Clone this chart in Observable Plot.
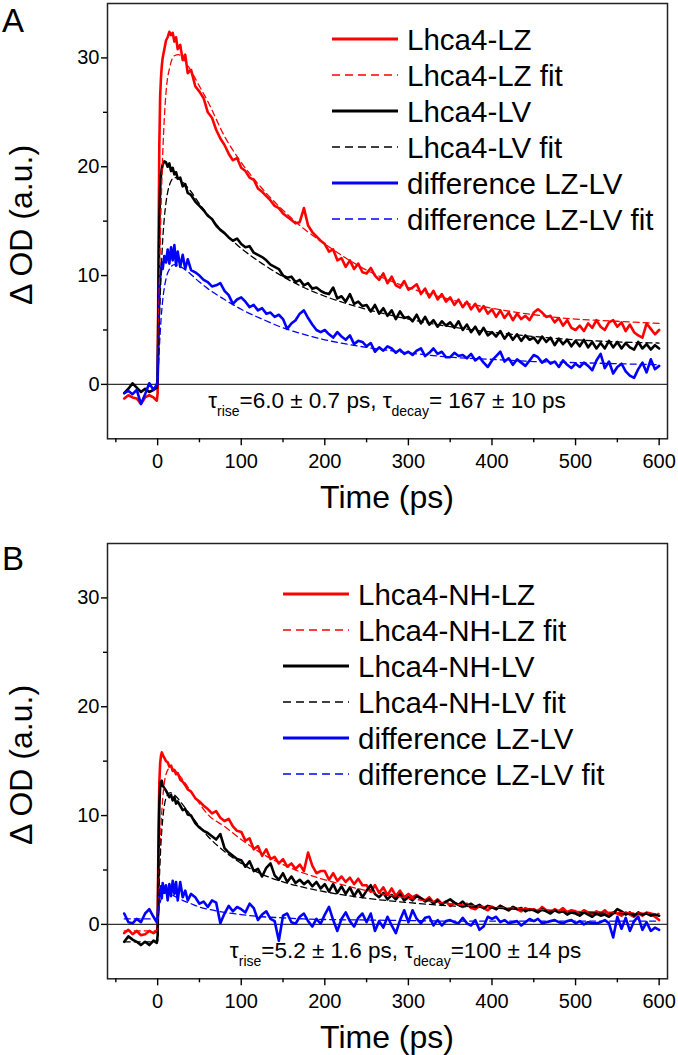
<!DOCTYPE html>
<html><head><meta charset="utf-8">
<script src="https://cdn.jsdelivr.net/npm/d3@7"></script>
<script src="https://cdn.jsdelivr.net/npm/@observablehq/plot@0.6"></script>
<style>
body{margin:0;background:#fff;}
#chart{width:678px;}
svg{display:block;}
</style></head><body><div id="chart"></div>
<script>
// ---------- time grid (ps) ----------
const tEarly = [-40,-35,-30,-25,-20,-15,-10,-5,-1,0,1,2,3,4,5,6,8,10,12,14,16,18,20,22,24,27,30,33,36,40,45];
const tLate = [50,55,60,65,70,75,80,85,90,95,
 100,105,110,115,120,125,130,135,140,145,
 150,155,160,165,170,175,180,185,190,195,
 200,205,210,215,220,225,230,235,240,245,
 250,255,260,265,270,275,280,285,290,295,
 300,305,310,315,320,325,330,335,340,345,
 350,355,360,365,370,375,380,385,390,395,
 400,405,410,415,420,425,430,435,440,445,
 450,455,460,465,470,475,480,485,490,495,
 500,505,510,515,520,525,530,535,540,545,
 550,555,560,565,570,575,580,585,590,595,
 600];
const time = tEarly.concat(tLate);

// ---------- Panel A data ----------
const lzA = [-1.3,-1.0,-1.2,-1.3,-1.8,-1.2,-1.0,-1.2,-1.5,-0.8,12,22,26.5,28.2,29.3,30.0,30.8,31.6,31.9,32.4,32.1,32.3,31.5,31.9,30.8,31.2,29.8,30.3,28.6,28.9,27.4,
 26.9,26.3,25.0,24.5,23.4,22.6,22.0,21.2,20.6,20.8,
 19.9,19.6,19.0,18.8,18.0,17.7,17.3,16.9,16.4,16.2,
 15.7,15.4,15.1,14.8,14.9,16.2,14.6,14.0,13.6,13.2,
 12.9,12.2,12.4,11.4,11.6,10.8,11.4,10.6,11.1,10.3,
 10.2,10.7,10.0,9.6,10.2,9.3,9.9,9.1,8.9,9.5,
 8.7,8.9,9.2,8.3,8.8,8.0,8.6,7.8,8.3,7.6,
 8.0,7.3,7.8,7.1,7.6,6.9,7.4,6.7,7.2,6.5,
 6.9,6.2,6.8,6.1,6.6,5.9,6.5,6.0,6.3,5.9,
 6.6,6.9,6.6,6.2,6.3,5.7,6.1,5.4,5.9,5.2,
 5.0,5.4,4.9,5.6,5.2,5.9,5.3,5.0,5.7,5.9,
 5.3,5.7,4.9,5.5,4.8,4.5,4.3,5.6,5.1,4.6,
 5.0];
const lvA = [-0.8,-0.4,0.1,-0.3,-0.7,-0.4,-0.7,-0.5,-0.3,0.5,8,15,18,19.2,19.8,20.2,20.5,20.4,20.0,20.3,19.6,19.9,19.3,19.5,18.9,19.0,18.2,18.4,17.6,17.4,16.8,
 16.4,16.0,15.5,15.2,14.6,14.2,13.9,13.5,13.2,13.4,
 12.9,12.6,12.7,12.1,11.9,11.7,11.4,11.0,10.8,10.6,
 10.0,9.8,9.9,9.4,9.6,9.1,9.3,8.8,8.9,8.6,
 8.4,8.3,8.9,7.9,8.1,7.6,8.3,7.4,7.6,7.2,
 7.3,6.7,7.3,6.5,7.0,6.3,6.8,6.0,6.7,6.1,
 6.2,5.8,6.4,5.6,6.2,5.5,5.9,5.3,5.8,5.4,
 5.7,5.2,5.8,5.0,5.5,4.8,5.3,4.6,5.2,4.5,
 4.8,4.4,4.9,4.2,4.7,4.1,4.6,4.0,4.5,4.1,
 4.3,3.8,4.4,3.9,4.3,3.6,4.2,3.7,4.1,3.5,
 4.0,3.5,4.1,3.4,3.9,3.3,3.8,3.3,4.0,3.4,
 3.9,3.3,3.8,3.4,3.2,3.9,3.3,3.7,3.2,3.6,
 3.3];
const diffA = [-0.8,-0.6,-0.9,-0.5,-1.8,-0.9,0.1,-0.5,0.0,0.3,5,8.5,9.8,10.4,11.2,10.6,11.8,11.2,12.4,11.1,12.6,11.4,12.8,10.9,12.2,10.8,11.9,10.6,11.5,10.5,10.3,
 10.0,9.6,9.4,9.0,9.1,9.3,8.6,8.2,7.4,7.8,
 8.0,7.6,7.1,7.3,6.8,7.0,6.5,6.6,6.2,6.4,
 6.0,5.1,5.6,5.9,6.5,6.8,6.1,5.5,5.0,4.8,
 5.0,4.6,4.3,4.8,4.4,4.1,4.5,3.7,4.0,3.9,
 3.5,3.8,3.0,3.4,3.1,3.5,3.3,2.9,3.2,2.8,
 3.0,2.7,3.1,3.3,2.6,2.9,3.3,2.8,3.0,2.5,
 2.5,2.9,2.6,2.7,2.4,2.8,2.2,2.5,2.0,1.6,
 2.2,2.6,3.0,2.1,2.4,1.8,2.3,2.0,1.7,2.2,
 2.7,2.5,2.0,2.3,1.9,2.1,1.6,2.2,1.8,1.5,
 1.9,1.6,2.0,1.7,1.3,2.2,2.8,1.5,2.1,1.0,
 1.6,1.9,1.2,0.8,0.6,1.4,2.0,1.1,2.3,1.4,
 1.7];

// ---------- Panel B data ----------
const lzB = [-0.8,-0.5,-0.9,-0.6,-1.0,-0.9,-0.6,-0.8,-0.6,-0.2,8,13,14.8,15.5,15.8,15.6,15.3,15.0,14.9,14.5,14.6,14.1,14.2,13.8,13.9,13.3,13.1,12.8,12.4,12.2,11.6,
 11.3,10.9,10.6,10.2,10.4,9.8,9.5,9.7,9.0,8.6,
 8.5,7.7,7.9,6.9,7.2,6.3,6.9,6.0,6.2,5.6,
 6.0,5.3,5.6,5.1,5.5,4.9,6.6,5.4,4.7,4.9,
 4.9,4.1,4.7,4.0,4.4,3.9,4.3,3.7,4.2,3.6,
 3.6,3.0,3.6,2.9,3.4,2.7,3.3,2.6,3.1,2.5,
 2.8,2.5,2.7,2.4,2.2,2.5,2.0,2.3,1.9,2.1,
 1.7,2.0,1.8,1.6,1.9,1.5,1.4,1.7,1.5,1.3,
 1.6,1.4,1.7,1.5,1.3,1.6,1.4,1.2,1.5,1.3,
 1.4,1.2,1.6,1.3,1.1,1.4,1.2,1.5,1.1,1.3,
 1.2,1.0,1.3,1.1,0.9,1.2,1.0,1.3,0.9,1.1,
 1.0,0.8,1.1,0.9,0.7,1.0,0.8,1.1,1.0,0.7,
 0.4];
const lvB = [-1.6,-1.1,-1.4,-1.6,-1.9,-1.6,-1.9,-1.5,-1.7,-1.0,6,11,12.6,13.1,13.2,12.8,12.5,12.3,12.0,11.7,11.9,11.4,11.7,11.1,11.3,10.9,10.5,10.6,10.1,10.0,9.3,
 8.9,8.6,8.4,8.1,7.8,8.3,7.0,6.6,6.3,6.0,
 5.9,5.3,5.8,4.9,5.1,4.4,5.2,5.6,4.5,4.1,
 4.7,3.9,4.4,3.8,4.1,3.7,4.0,3.5,3.9,3.3,
 3.7,3.0,3.7,2.9,3.5,2.8,3.4,2.6,3.2,2.5,
 3.1,3.6,2.8,2.5,2.9,2.3,2.7,2.3,2.8,2.2,
 2.5,2.2,2.6,2.4,2.1,2.3,1.9,2.2,1.8,2.1,
 2.3,2.0,1.8,2.1,1.7,1.9,1.6,1.8,1.5,1.7,
 1.6,1.4,1.7,1.5,1.3,1.6,1.4,1.5,1.2,1.4,
 1.3,1.1,1.4,1.2,1.0,1.3,1.1,1.2,0.9,1.1,
 1.0,0.8,1.1,0.9,0.7,1.0,0.8,0.9,0.7,1.0,
 1.4,1.2,0.9,1.1,0.8,1.1,0.9,1.0,0.8,0.9,
 0.8];
const diffB = [1.0,0.2,0.1,0.5,0.2,1.0,1.4,0.7,0.2,0.5,2.0,3.1,2.6,3.5,2.4,3.8,2.9,3.6,2.2,3.7,2.6,4.0,2.8,3.9,2.2,3.9,2.5,3.1,2.2,2.8,2.5,
 1.9,2.1,1.6,2.2,2.0,0.1,1.0,1.7,1.2,1.6,
 1.4,1.1,1.9,1.5,0.4,0.9,1.2,0.5,0.3,-1.5,
 0.8,1.0,0.2,0.06,0.7,1.0,0.3,-0.2,0.5,0.06,
 0.9,1.6,0.4,-0.6,0.5,1.1,0.3,-0.2,0.6,1.0,
 0.2,1.0,-0.6,0.3,-0.3,0.7,-0.1,-0.8,0.4,1.3,
 0.2,1.3,0.5,0.1,0.6,0.7,-0.1,0.4,-0.1,0.3,
 0.4,0.2,0.1,0.6,0.1,-0.1,0.4,-0.5,-0.2,0.7,
 0.5,0.7,0.2,0.4,0.1,0.2,0.3,-0.1,0.2,0.5,
 0.3,0.5,0.1,0.2,0.3,0.4,0.2,0.1,0.3,0.4,
 0.1,0.3,0.0,0.2,0.1,0.1,0.2,0.4,0.1,-1.2,
 0.7,-0.4,0.6,-0.6,0.3,0.7,-0.5,0.2,-0.6,-0.3,
 -0.5];

// ---------- fits ----------
const fitTime = [-40,0,2,4,6,8,10,15,20,25,30,40,50,60,80,100,125,150,175,200,250,300,350,400,450,500,550,600];
const lzFitA = [null,0,9,16,21,24.5,26.8,29.3,30.2,30.3,30.0,28.8,27.4,26.0,22.8,20.4,18.0,16.0,14.3,12.9,10.5,8.9,7.8,7.0,6.4,6.0,5.8,5.6];
const lvFitA = [null,0,5.5,10,13.2,15.3,16.7,18.5,19.0,18.9,18.6,17.7,16.6,15.6,13.9,12.5,11.1,9.9,8.9,8.1,6.9,6.0,5.3,4.8,4.4,4.1,3.9,3.8];
const diffFitA = [null,0,3.3,5.9,7.7,8.9,9.7,10.7,11.0,10.9,10.7,10.1,9.4,8.8,7.8,6.9,6.0,5.2,4.6,4.1,3.4,2.9,2.5,2.3,2.1,2.0,1.9,1.8];
const lzFitB = [-0.6,-0.6,5,9,11.5,13,13.8,14.4,14.2,13.8,13.3,12.2,11.1,10.1,9.0,7.8,6.5,5.5,4.7,4.1,3.1,2.4,1.9,1.6,1.4,1.2,1.1,1.0];
const lvFitB = [-1.6,-1.6,4,7.5,9.6,10.9,11.6,12.1,11.9,11.5,11.0,10.0,9.0,8.1,6.7,5.6,4.6,3.9,3.4,3.0,2.4,2.0,1.7,1.5,1.3,1.1,1.0,0.9];
const diffFitB = [0.5,0.5,1.6,2.3,2.7,2.9,2.9,2.8,2.6,2.4,2.2,1.9,1.6,1.4,1.1,0.9,0.7,0.6,0.5,0.45,0.4,0.35,0.3,0.3,0.3,0.3,0.3,0.3];

// ---------- labels / ticks ----------
const legendA = ["Lhca4-LZ","Lhca4-LZ fit","Lhca4-LV","Lhca4-LV fit","difference LZ-LV","difference LZ-LV fit"];
const legendB = ["Lhca4-NH-LZ","Lhca4-NH-LZ fit","Lhca4-NH-LV","Lhca4-NH-LV fit","difference LZ-LV","difference LZ-LV fit"];
const annotA = ["τ","rise","=6.0 ± 0.7 ps, ","τ","decay","= 167 ± 10 ps"];
const annotB = ["τ","rise","=5.2 ± 1.6 ps, ","τ","decay","=100 ± 14 ps"];
const yMajor = [0,10,20,30], yMinor = [5,15,25];
const xMajor = [0,100,200,300,400,500,600], xMinor = [-50,50,150,250,350,450,550];
const colors = ["#ff0000","#000000","#0000ff"];

const FONT = "'Liberation Sans', Arial, Helvetica, sans-serif";
const problems = [];

function rowsOf(ts, vs, name) {
  if (ts.length !== vs.length) problems.push(name + " " + vs.length + "/" + ts.length);
  return ts.map((t, i) => ({t, v: vs[i]})).filter(d => d.v != null);
}

function panel(cfg) {
  const marks = [Plot.ruleY([0], {stroke: "#333", strokeWidth: 1.4})];
  cfg.data.forEach((vs, k) => marks.push(Plot.line(rowsOf(time, vs, cfg.letter + k), {x: "t", y: "v", stroke: colors[k], strokeWidth: 2.6, strokeLinejoin: "round"})));
  cfg.fits.forEach((vs, k) => marks.push(Plot.line(rowsOf(fitTime, vs, cfg.letter + "fit" + k), {x: "t", y: "v", stroke: colors[k], strokeWidth: 1.3, strokeDasharray: "6,4", curve: "monotone-x"})));
  marks.push(Plot.frame({stroke: "#222", strokeWidth: 1.5}));
  marks.push(Plot.axisY({ticks: yMajor, tickSize: 6, tickPadding: 2, fontSize: 20, strokeWidth: 1.4, label: null}));
  marks.push(Plot.axisY({ticks: yMinor, tickSize: 4, tickFormat: () => "", strokeWidth: 1.4, label: null}));
  marks.push(Plot.axisX({ticks: xMajor, tickSize: 7, tickPadding: 8, fontSize: 20, strokeWidth: 1.4, label: null}));
  marks.push(Plot.axisX({ticks: xMinor, tickSize: 4, tickFormat: () => "", strokeWidth: 1.4, label: null}));
  const plot = Plot.plot({
    width: 678, height: cfg.height,
    marginTop: 3, marginLeft: 107, marginRight: 11, marginBottom: cfg.height - 438.3,
    x: {domain: [-60, 610]}, y: {domain: [-5, 35]},
    style: {fontFamily: FONT, color: "#000", background: "#fff", overflow: "visible"},
    marks
  });
  const svg = d3.select(plot);
  const xs = plot.scale("x"), ys = plot.scale("y");
  // panel letter
  svg.append("text").attr("x", 2).attr("y", cfg.letterY).attr("text-anchor", "start")
    .attr("font-size", 33).attr("font-family", FONT).text(cfg.letter);
  // y title
  svg.append("text").attr("transform", "translate(32,225) rotate(-90)").attr("text-anchor", "middle")
    .attr("font-size", 32).attr("font-family", FONT).text("Δ OD (a.u.)");
  // x title
  svg.append("text").attr("x", 387).attr("y", 508).attr("text-anchor", "middle")
    .attr("font-size", 32).attr("font-family", FONT).text("Time (ps)");
  // legend
  const lg = svg.append("g").attr("font-family", FONT).attr("font-size", 29.5).attr("text-anchor", "start");
  cfg.legend.forEach((name, i) => {
    const y = cfg.legendY + i * 36;
    const dashed = i % 2 === 1;
    lg.append("line").attr("x1", cfg.legendX).attr("x2", cfg.legendX + 66).attr("y1", y).attr("y2", y)
      .attr("stroke", colors[Math.floor(i / 2)]).attr("stroke-width", dashed ? 1.4 : 3)
      .attr("stroke-dasharray", dashed ? "8,5" : null);
    lg.append("text").attr("x", cfg.legendX + 75).attr("y", y).attr("dy", "0.36em").text(name);
  });
  // annotation with subscripts
  const at = svg.append("text").attr("x", xs.apply(cfg.annotX)).attr("y", ys.apply(cfg.annotY))
    .attr("text-anchor", "start").attr("font-family", FONT).attr("font-size", 22.5).style("white-space", "pre");
  cfg.annot.forEach((s, i) => {
    const sub = i === 1 || i === 4;
    const ts = at.append("tspan").text(s).attr("font-size", sub ? 14 : 22.5);
    if (sub) ts.attr("dy", 8); else if (i === 2 || i === 5) ts.attr("dy", -8);
  });
  return plot;
}

const root = document.getElementById("chart");
root.appendChild(panel({letter: "A", letterY: 32, height: 540, data: [lzA, lvA, diffA], fits: [lzFitA, lvFitA, diffFitA],
  legend: legendA, legendX: 332, legendY: 39, annot: annotA, annotX: 61, annotY: -2.2}));
root.appendChild(panel({letter: "B", letterY: 30, height: 515, data: [lzB, lvB, diffB], fits: [lzFitB, lvFitB, diffFitB],
  legend: legendB, legendX: 283, legendY: 54, annot: annotB, annotX: 87, annotY: -3.13}));
if (problems.length) { const p = document.createElement("div"); p.style.color = "red"; p.textContent = "LEN: " + problems.join(", "); document.body.prepend(p); }
</script>
</body></html>
